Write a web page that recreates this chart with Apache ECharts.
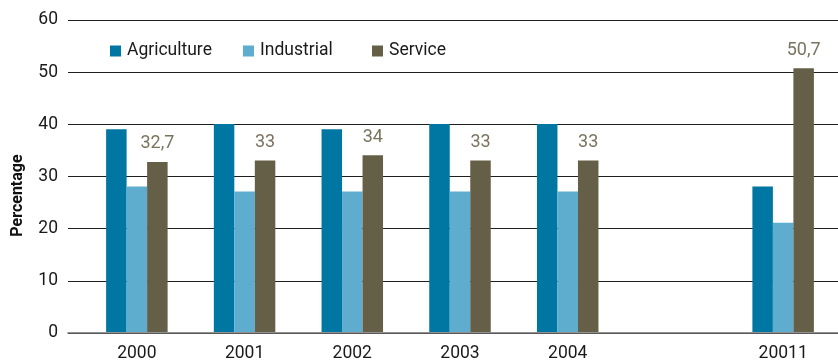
<!DOCTYPE html>
<html>
<head>
<meta charset="utf-8">
<script src="https://cdn.jsdelivr.net/npm/echarts@6/dist/echarts.min.js"></script>
<style>
  html, body { margin: 0; padding: 0; background: #ffffff; }
  #chart { width: 838px; height: 363px; }
</style>
</head>
<body>
<div id="chart"></div>
<script>
// Employment share by sector (%)
const years = ['2000', '2001', '2002', '2003', '2004', '', '20011'];
const agriculture = [39, 40, 39, 40, 40, null, 28];
const industrial = [28, 27, 27, 27, 27, null, 21];
const service = [32.7, 33, 34, 33, 33, null, 50.7];
const yTicks = [0, 10, 20, 30, 40, 50, 60];

const FONT = 'Roboto, "Liberation Sans", sans-serif';
const colors = { Agriculture: '#0077a2', Industrial: '#5eadcf', Service: '#655f47' };

const chart = echarts.init(document.getElementById('chart'), null, { renderer: 'canvas' });

function legendAt(name, left) {
  return {
    data: [name], left: left, top: 37,
    itemWidth: 11, itemHeight: 11, itemGap: 6,
    icon: 'rect',
    textStyle: { fontFamily: FONT, fontSize: 17.5, color: '#1a1a1a', padding: [0, 0, 0, 1] },
    selectedMode: false
  };
}

const option = {
  animation: false,
  backgroundColor: '#ffffff',
  legend: [legendAt('Agriculture', 105), legendAt('Industrial', 238), legendAt('Service', 367)],
  grid: [
    // frame for the value scale and its gridlines
    { left: 68, right: 0, top: 20, bottom: 30 },
    // frame for the bars and the year labels
    { left: 83, right: 1, top: 20, bottom: 30 }
  ],
  xAxis: [
    {
      gridIndex: 0, type: 'value', min: 0, max: 1,
      axisLine: { show: true, onZero: false, lineStyle: { color: '#6e6e6e', width: 1.6 } },
      axisTick: { show: false }, axisLabel: { show: false }, splitLine: { show: false }
    },
    {
      gridIndex: 1, type: 'category', data: years,
      axisLine: { show: false }, axisTick: { show: false },
      axisLabel: { fontFamily: FONT, fontSize: 17.5, color: '#1a1a1a', margin: 13 }
    }
  ],
  yAxis: [
    {
      gridIndex: 0, type: 'value',
      min: yTicks[0], max: yTicks[yTicks.length - 1], interval: yTicks[1] - yTicks[0],
      name: 'Percentage', nameLocation: 'middle', nameRotate: 90, nameGap: 42,
      nameTextStyle: { fontFamily: FONT, fontWeight: 'bold', fontSize: 16, color: '#111', padding: [0, 38, 0, 0] },
      axisLine: { show: false }, axisTick: { show: false },
      axisLabel: { fontFamily: FONT, fontSize: 17.5, color: '#1a1a1a', margin: 10 },
      splitLine: { show: true, lineStyle: { color: '#1f1f1f', width: 1.1 } }
    },
    {
      gridIndex: 1, type: 'value',
      min: yTicks[0], max: yTicks[yTicks.length - 1], interval: yTicks[1] - yTicks[0],
      show: false, splitLine: { show: false }
    }
  ],
  series: [
    {
      name: 'Agriculture', type: 'bar', xAxisIndex: 1, yAxisIndex: 1,
      data: agriculture, barWidth: 20.5, barGap: '0%',
      itemStyle: { color: colors.Agriculture }
    },
    {
      name: 'Industrial', type: 'bar', xAxisIndex: 1, yAxisIndex: 1,
      data: industrial, barWidth: 20.5, barGap: '0%',
      itemStyle: { color: colors.Industrial }
    },
    {
      name: 'Service', type: 'bar', xAxisIndex: 1, yAxisIndex: 1,
      data: service, barWidth: 20.5, barGap: '0%',
      itemStyle: { color: colors.Service },
      label: {
        show: true, position: 'top', distance: 9,
        fontFamily: FONT, fontSize: 18, color: '#7a735e',
        formatter: p => String(p.value).replace('.', ',')
      }
    }
  ]
};

chart.setOption(option);
</script>
</body>
</html>
